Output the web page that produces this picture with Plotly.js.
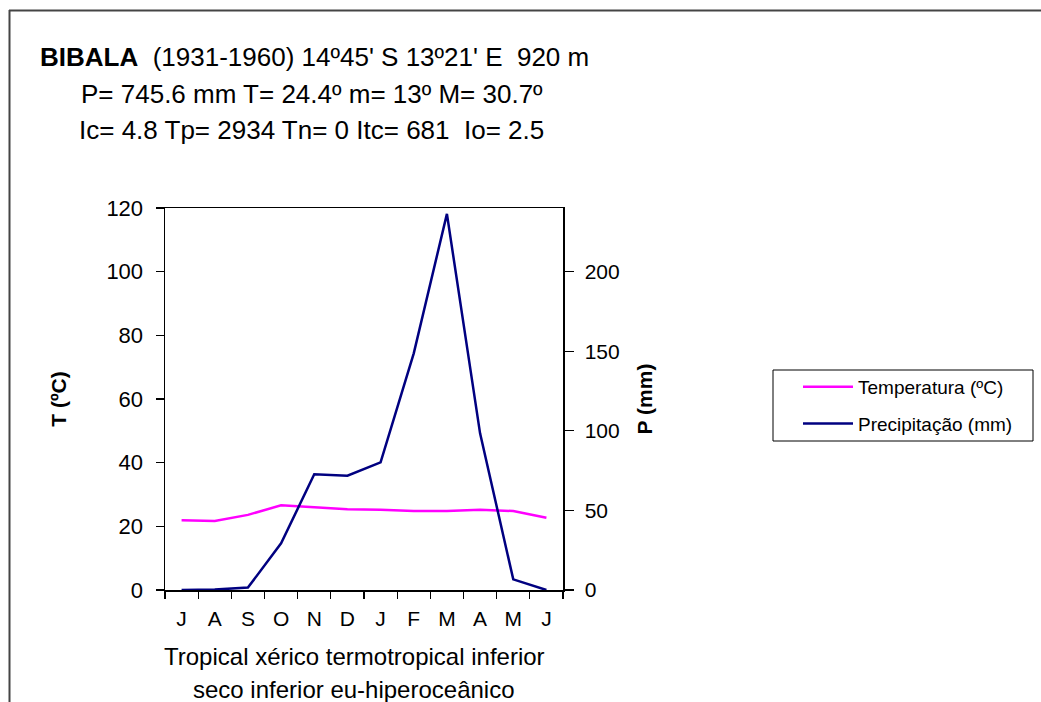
<!DOCTYPE html>
<html>
<head>
<meta charset="utf-8">
<script src="https://cdn.plot.ly/plotly-3.0.1.min.js"></script>
<style>html,body{margin:0;padding:0;background:#fff;}</style>
</head>
<body>
<div id="chart" style="width:1041px;height:702px;"></div>
<script>
const months = ["J","A","S","O","N","D","J ","F","M","A ","M ","J  "];
const monthLabels = ["J","A","S","O","N","D","J","F","M","A","M","J"];
const temperature = [21.9, 21.7, 23.6, 26.6, 26.0, 25.4, 25.2, 24.8, 24.8, 25.2, 24.8, 22.7];
const precipitation = [0, 0.3, 1.5, 29.3, 72.7, 71.8, 80.2, 148.7, 236.3, 98.4, 6.7, 0];
const titleLines = [
  "<b>BIBALA</b>  (1931-1960) 14º45' S 13º21' E  920 m",
  "P= 745.6 mm T= 24.4º m= 13º M= 30.7º",
  "Ic= 4.8 Tp= 2934 Tn= 0 Itc= 681  Io= 2.5"
];
const xTitleLines = ["Tropical xérico termotropical inferior", "seco inferior eu-hiperoceânico"];

const FONT = "'Liberation Sans', Arial, sans-serif";
const L = 165, R = 563, T = 208, B = 590, W = 1041, H = 702;
const px = x => (x - L) / (R - L);
const py = y => (B - y) / (B - T);

const traces = [
  {x: months, y: temperature, name: "Temperatura (ºC)", type: "scatter", mode: "lines",
   line: {color: "#FF00FF", width: 2.5}, yaxis: "y", legendgroup: "t"},
  {x: months, y: precipitation, name: "Precipitação (mm)", type: "scatter", mode: "lines",
   line: {color: "#000080", width: 2.5}, yaxis: "y2", legendgroup: "p"}
];

const baseY = {range: [0, 120], dtick: 20, showgrid: false, zeroline: false,
  showline: true, linecolor: "#000", linewidth: 1.5, tickcolor: "#000", tickwidth: 1.2};

const layout = {
  width: W, height: H,
  margin: {l: L, r: W - R, t: T, b: H - B, pad: 0},
  paper_bgcolor: "#fff", plot_bgcolor: "#fff",
  font: {family: FONT, color: "#000", size: 22},
  showlegend: true,
  legend: {x: px(798), y: py(368), xanchor: "left", yanchor: "top",
    borderwidth: 0, bgcolor: "rgba(0,0,0,0)",
    font: {family: FONT, size: 19, color: "#000"}, tracegroupgap: 9,
    itemwidth: 50},
  xaxis: {type: "category", tickvals: months, ticktext: monthLabels, tickson: "boundaries",
    ticks: "outside", ticklen: 7, tickcolor: "#000", tickwidth: 1.2, ticklabelstandoff: 9,
    showline: true, linecolor: "#000", linewidth: 1.5, mirror: true,
    showgrid: false, zeroline: false, tickfont: {size: 21, family: FONT}, range: [-0.5, 11.5]},
  yaxis: Object.assign({}, baseY, {ticks: "outside", ticklen: 8, ticklabelstandoff: 8,
    tickfont: {size: 22, family: FONT},
    title: {text: "<b>T (ºC)</b>", font: {size: 21, family: FONT}, standoff: 34}}),
  yaxis3: Object.assign({}, baseY, {overlaying: "y", ticks: "inside", ticklen: 8, showticklabels: false}),
  yaxis2: Object.assign({}, baseY, {range: [0, 240], dtick: 50, tickvals: [0, 50, 100, 150, 200],
    side: "right", overlaying: "y", ticks: "outside", ticklen: 9, ticklabelstandoff: 7,
    tickfont: {size: 21, family: FONT},
    title: {text: "<b>P (mm)</b>", font: {size: 21, family: FONT}, standoff: 18}}),
  yaxis4: Object.assign({}, baseY, {range: [0, 240], tickvals: [0, 50, 100, 150, 200], side: "right",
    overlaying: "y", ticks: "inside", ticklen: 6, showticklabels: false}),
  annotations: [
    {text: titleLines[0], x: px(314), y: py(57), xref: "paper", yref: "paper", showarrow: false,
     xanchor: "center", yanchor: "middle", font: {size: 26, family: FONT}},
    {text: titleLines[1], x: px(312), y: py(94), xref: "paper", yref: "paper", showarrow: false,
     xanchor: "center", yanchor: "middle", font: {size: 26, family: FONT}},
    {text: titleLines[2], x: px(311), y: py(130), xref: "paper", yref: "paper", showarrow: false,
     xanchor: "center", yanchor: "middle", font: {size: 26, family: FONT}},
    {text: xTitleLines[0], x: px(354), y: py(656), xref: "paper", yref: "paper", showarrow: false,
     xanchor: "center", yanchor: "middle", font: {size: 24, family: FONT}},
    {text: xTitleLines[1], x: px(354), y: py(689), xref: "paper", yref: "paper", showarrow: false,
     xanchor: "center", yanchor: "middle", font: {size: 24, family: FONT}}
  ],
  shapes: [
    {type: "line", xref: "paper", yref: "paper", x0: px(9), x1: px(1045), y0: py(10.5), y1: py(10.5),
     line: {color: "#444", width: 2}},
    {type: "line", xref: "paper", yref: "paper", x0: px(9.5), x1: px(9.5), y0: py(10), y1: py(706),
     line: {color: "#444", width: 2}},
    {type: "rect", xref: "paper", yref: "paper", x0: px(773), x1: px(1033), y0: py(370), y1: py(441),
     line: {color: "#000", width: 1}, fillcolor: "rgba(0,0,0,0)"}
  ]
};

Plotly.newPlot("chart", traces, layout, {displayModeBar: false, staticPlot: true});
</script>
</body>
</html>
